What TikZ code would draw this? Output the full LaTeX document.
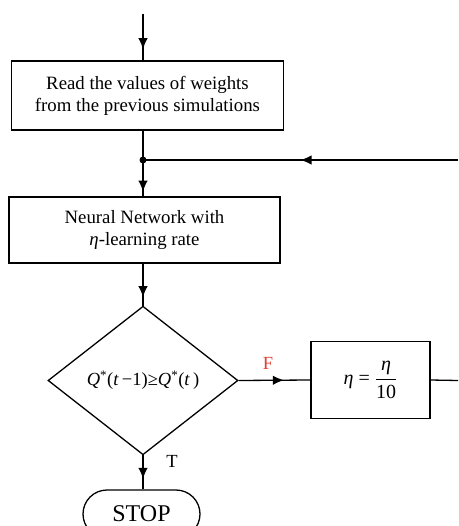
\documentclass[tikz,border=0pt]{standalone}
\usepackage{amsmath}
\usepackage{fontspec}
\setmainfont{Liberation Serif}
\usetikzlibrary{arrows.meta,positioning,shapes.geometric,shapes.misc,decorations.markings}
\definecolor{flagRed}{RGB}{228,62,52}

\tikzset{
  flow/.style={line width=1.3pt},
  midarrow/.style={flow,postaction={decorate},
    decoration={markings,mark=at position #1 with {\arrow{Latex[length=11pt,width=9.5pt]}}}},
  procbox/.style={draw,line width=1.3pt,align=center,inner sep=0pt,
    font=\fontsize{18.8}{22}\selectfont},
  testbox/.style={draw,diamond,line width=1.3pt,inner sep=0pt,
    minimum width=190pt,minimum height=148.6pt,font=\fontsize{18.5}{20}\selectfont},
  endbox/.style={draw,rounded rectangle,line width=1.3pt,inner sep=0pt,
    minimum width=117pt,minimum height=48pt,font=\fontsize{24}{28}\selectfont},
  flag/.style={inner sep=0pt,font=\fontsize{18.5}{20}\selectfont}
}

\begin{document}
\begin{tikzpicture}[x=1pt,y=-1pt]
  \clip (0,0) rectangle (458,526);
  % main spine and the loose ends on the right
  \coordinate (in) at (143,14);
  \coordinate (join) at (143,160);
  \coordinate (back) at (458,160);
  \coordinate (out) at (458,380.5);

  \node[procbox,minimum width=271.5pt,minimum height=69pt] (read) at (147.5,95.5)
    {Read the values of weights\\from the previous simulations};
  \node[procbox,minimum width=271pt,minimum height=66pt] (nn) at (144.5,230)
    {Neural Network with\\\textit{η}-learning rate};
  \node[testbox] (cmp) at (143,380.5)
    {\textit{Q}\textsuperscript{*}(\textit{t}\,−1)≥\textit{Q}\textsuperscript{*}(\textit{t}\,)};
  \node[procbox,minimum width=119pt,minimum height=76.5pt,font=\fontsize{20}{22}\selectfont] (upd) at (370.5,380)
    {\textit{η} = $\dfrac{\textit{η}}{\textrm{10}}$};
  \node[endbox] (stop) at (141.5,514) {STOP};

  \draw[midarrow=0.76] (in) -- (in |- read.north);
  \draw[flow] (read.south -| join) -- (join);
  \draw[midarrow=0.5] (back) -- (join);
  \draw[midarrow=0.87] (join) -- (join |- nn.north);
  \draw[midarrow=0.8] (nn.south -| cmp) -- (cmp.north);
  \draw[midarrow=0.63] (cmp.east) -- (upd.west);
  \draw[flow] (upd.east) -- (out);
  \draw[midarrow=0.69] (cmp.south) -- (cmp.south |- stop.north);
  \fill (join) circle (3.5pt);

  \node[flag,text=flagRed] (f) at (268,363) {F};
  \node[flag] (t) at (172,461) {T};
\end{tikzpicture}
\end{document}
